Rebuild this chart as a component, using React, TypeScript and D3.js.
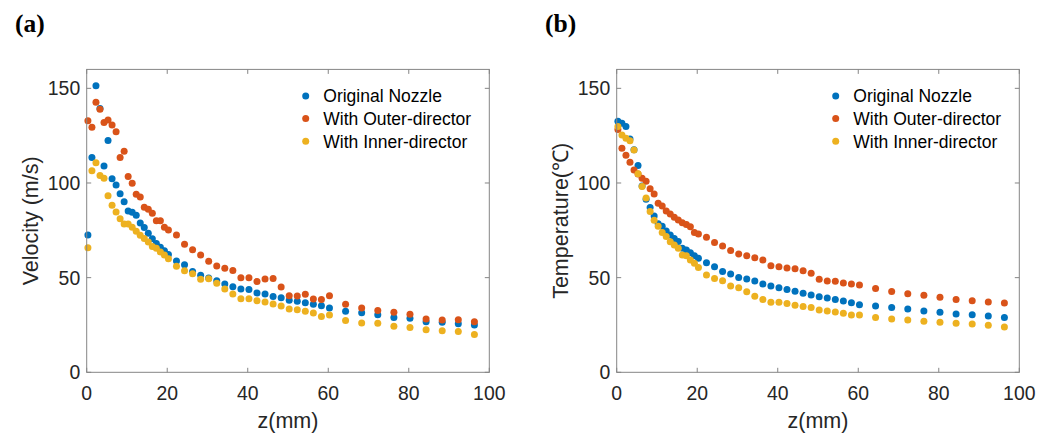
import React from "react";
import * as d3 from "d3";

const zVals = [
  0.3, 1.3, 2.3, 3.3, 4.3, 5.3, 6.3, 7.3, 8.3, 9.3, 10.3, 11.3, 12.3, 13.3, 14.3, 15.3, 16.3, 17.3, 18.3, 19.3, 20.3,
  22.3, 24.3, 26.3, 28.3, 30.3, 32.3, 34.3, 36.3, 38.3, 40.3, 42.3, 44.3, 46.3, 48.3, 50.3, 52.3, 54.3, 56.3, 58.3, 60.3,
  64.3, 68.3, 72.3, 76.3, 80.3, 84.3, 88.3, 92.3, 96.3,
];

const seriesNames = ["Original Nozzle", "With Outer-director", "With Inner-director"];

// Panel (a): velocity (m/s)
const velOriginal = [
  72.5, 113.4, 151.4, 139.4, 109.0, 122.5, 102.3, 99.0, 94.3, 90.1, 85.2, 84.6, 83.0, 78.8, 76.5, 73.4, 70.6, 68.1, 66.1, 64.2, 62.2,
  58.8, 56.8, 53.3, 51.2, 49.8, 48.4, 46.6, 45.2, 44.0, 43.7, 41.9, 41.4, 40.1, 39.4, 38.0, 37.5, 36.8, 35.9, 35.2, 33.9,
  32.3, 31.5, 30.4, 29.0, 28.5, 26.7, 26.4, 25.7, 25.0,
];
const velOuter = [
  132.9, 129.4, 142.6, 138.9, 131.9, 133.3, 130.6, 127.1, 113.4, 116.7, 103.4, 99.8, 94.0, 92.6, 87.2, 86.1, 84.0, 80.1, 80.1, 76.6, 75.2,
  72.5, 67.7, 64.8, 61.9, 58.7, 56.2, 55.0, 53.8, 50.0, 50.0, 47.9, 49.3, 49.5, 45.1, 40.5, 40.3, 41.2, 38.7, 38.5, 40.5,
  35.9, 33.9, 32.7, 31.7, 30.6, 28.2, 27.6, 27.8, 26.7,
];
const velInner = [
  65.8, 106.5, 110.7, 103.9, 102.5, 93.3, 88.2, 84.7, 81.1, 78.3, 78.3, 76.6, 74.5, 72.4, 70.7, 68.8, 66.5, 65.5, 63.6, 62.0, 60.0,
  56.0, 53.6, 52.1, 49.1, 49.4, 47.0, 44.0, 41.4, 38.9, 38.9, 37.8, 37.1, 36.1, 35.0, 33.4, 33.1, 32.3, 31.3, 29.5, 30.3,
  27.3, 26.1, 25.9, 24.3, 23.6, 22.5, 22.0, 21.6, 20.0,
];

// Panel (b): temperature (°C)
const tempOriginal = [
  132.6, 131.5, 129.8, 123.2, 117.5, 109.3, 98.4, 91.4, 87.0, 82.6, 78.5, 77.2, 74.6, 72.5, 70.7, 69.1, 65.5, 64.6, 63.2, 61.6, 60.2,
  57.9, 55.8, 53.3, 51.9, 50.1, 49.3, 48.2, 46.6, 45.6, 44.7, 43.7, 42.8, 41.7, 40.8, 39.9, 39.2, 38.5, 37.7, 36.8, 35.7,
  35.0, 34.2, 33.4, 32.4, 31.7, 30.8, 30.4, 29.7, 29.0,
];
const tempOuter = [
  128.2, 118.3, 114.7, 110.9, 106.9, 104.7, 102.5, 100.9, 97.0, 94.2, 89.3, 87.9, 85.2, 83.6, 81.9, 80.5, 79.0, 78.1, 76.9, 73.8, 73.1,
  71.3, 68.5, 66.7, 64.3, 62.5, 61.5, 60.5, 59.3, 56.3, 55.8, 55.1, 54.7, 53.7, 52.3, 49.1, 48.2, 48.1, 47.2, 46.6, 46.1,
  44.2, 42.7, 41.5, 40.7, 39.6, 38.4, 37.8, 37.1, 36.6,
];
const tempInner = [
  129.8, 125.4, 123.6, 122.3, 117.4, 104.9, 98.1, 92.1, 84.9, 80.3, 77.2, 73.8, 71.7, 69.0, 67.3, 65.5, 62.0, 61.5, 59.3, 57.6, 55.3,
  51.4, 49.6, 48.4, 45.6, 44.7, 42.6, 40.2, 38.5, 37.0, 37.0, 36.3, 35.4, 34.7, 34.2, 32.9, 32.4, 31.9, 31.2, 30.3, 30.3,
  28.9, 28.1, 27.6, 26.9, 26.4, 25.9, 25.5, 24.8, 23.9,
];

const xTicks = [0, 20, 40, 60, 80, 100];
const yTicks = [0, 50, 100, 150];
const colors = ["#0072BD", "#D95319", "#EDB120"];

const FONT = "'Liberation Sans', Arial, Helvetica, sans-serif";

type PanelProps = {
  left: number;
  tag: string;
  tagX: number;
  yLabel: string;
  labelX: number;
  series: number[][];
};

function Panel({ left, tag, tagX, yLabel, labelX, series }: PanelProps) {
  const top = 69.4;
  const bottom = 372.3;
  const width = 402.6;
  const x = d3.scaleLinear().domain([0, 100]).range([left, left + width]);
  const y = d3.scaleLinear().domain([0, 160]).range([bottom, top]);
  const tl = 4.5;
  const axisColor = "#858585";
  const textColor = "#262626";
  return (
    <g>
      <text x={tagX} y={32} fontFamily="'Liberation Serif', 'Times New Roman', serif" fontWeight="bold" fontSize={25.5} fill="#000">
        {tag}
      </text>
      {series.map((vals, si) => (
        <g key={si}>
          {vals.map((v, i) => (
            <circle key={i} cx={x(zVals[i])} cy={y(v)} r={3.5} fill={colors[si]} />
          ))}
        </g>
      ))}
      <rect x={left} y={top} width={width} height={bottom - top} fill="none" stroke={axisColor} strokeWidth={1} />
      {xTicks.map((t) => (
        <g key={"x" + t}>
          <line x1={x(t)} x2={x(t)} y1={bottom} y2={bottom - tl} stroke={axisColor} />
          <line x1={x(t)} x2={x(t)} y1={top} y2={top + tl} stroke={axisColor} />
          <text x={x(t)} y={399.5} textAnchor="middle" fontFamily={FONT} fontSize={19.4} fill={textColor}>
            {t}
          </text>
        </g>
      ))}
      {yTicks.map((t) => (
        <g key={"y" + t}>
          <line x1={left} x2={left + tl} y1={y(t)} y2={y(t)} stroke={axisColor} />
          <line x1={left + width} x2={left + width - tl} y1={y(t)} y2={y(t)} stroke={axisColor} />
          <text x={left - 6.5} y={y(t)} dy="0.36em" textAnchor="end" fontFamily={FONT} fontSize={19.4} fill={textColor}>
            {t}
          </text>
        </g>
      ))}
      <text x={left + width / 2} y={428} textAnchor="middle" fontFamily={FONT} fontSize={21.5} fill={textColor}>
        z(mm)
      </text>
      <text
        transform={`translate(${labelX},${(top + bottom) / 2}) rotate(-90)`}
        textAnchor="middle"
        fontFamily={FONT}
        fontSize={21.5}
        fill={textColor}
      >
        {yLabel}
      </text>
      {seriesNames.map((name, si) => (
        <g key={name}>
          <circle cx={left + 219} cy={96 + si * 22.6} r={3.5} fill={colors[si]} />
          <text x={left + 236.6} y={96 + si * 22.6} dy="0.36em" fontFamily={FONT} fontSize={17.5} fill="#000">
            {name}
          </text>
        </g>
      ))}
    </g>
  );
}

export default function App() {
  return (
    <svg width={1051} height={434} style={{ position: "absolute", left: 0, top: 0, background: "#fff" }}>
      <rect x={0} y={0} width={1051} height={434} fill="#fff" />
      <Panel left={86.7} tag="(a)" tagX={15} yLabel="Velocity (m/s)" labelX={38} series={[velOriginal, velOuter, velInner]} />
      <Panel left={616.7} tag="(b)" tagX={545} yLabel="Temperature(℃)" labelX={568} series={[tempOriginal, tempOuter, tempInner]} />
    </svg>
  );
}
